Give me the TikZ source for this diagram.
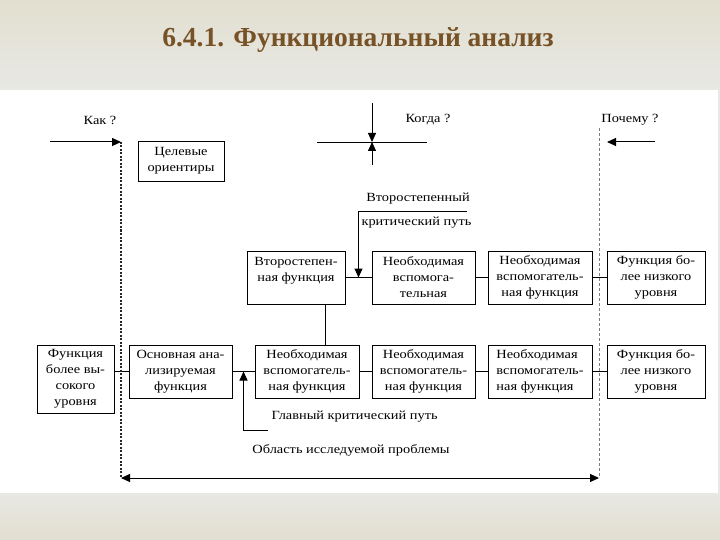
\documentclass[tikz,border=0pt]{standalone}
\usepackage{fontspec}
\setmainfont{Liberation Serif}
\newfontfamily\diagfont{Liberation Serif}[FakeStretch=1.15]
\usepackage{tikz}
\usetikzlibrary{calc}
\usetikzlibrary{arrows.meta}
\usetikzlibrary{positioning}

\definecolor{titlebrown}{RGB}{118,82,38}
\definecolor{bgtop}{RGB}{226,223,208}
\definecolor{bgbot}{RGB}{232,232,228}
\definecolor{dashgray}{RGB}{125,125,125}

\begin{document}
\begin{tikzpicture}[x=1pt,y=-1pt,font=\diagfont\fontsize{12.5}{16}\selectfont,
     bx/.style={draw, line width=0.8pt, fill=white, align=center, inner sep=1pt,
                minimum width=103, minimum height=53},
     arr/.style={line width=1pt, -{Triangle[length=9pt,width=8pt]}},
     ln/.style={line width=0.6pt}
   ]
\useasboundingbox (0,0) rectangle (720,540);
\shade[top color=bgtop, bottom color=bgbot] (0,0) rectangle (720,90);
\fill[bgbot] (0,90) rectangle (720,540);
\shade[top color=bgbot, bottom color=bgtop] (0,493) rectangle (720,540);
\fill[white] (0,90) rectangle (718,493);

\node (title) at (358,40) [font=\rmfamily\bfseries\fontsize{27.5}{32}\selectfont, text=titlebrown]
  {6.4.1. Функциональный анализ};

% question labels
\node (how) at (100,120) {Как ?};
\node (when) at (428,120) {Когда ?};
\node (why) at (630,120) {Почему ?};

% boxes, upper row
\node (goal) [bx, minimum width=86, minimum height=40] at (181,161) {Целевые\\ориентиры};
\node (sec) [bx, minimum width=98] at (296,277.5) {Второстепен-\\ная функция\\~};
\node (up1) [bx] at (423.5,277.5) {Необходимая\\вспомога-\\тельная};
\node (up2) [bx, minimum width=104] at (540,277.5) {Необходимая\\вспомогатель-\\ная функция};
\node (uplow) [bx, minimum width=98] at (656,277.5) {Функция бо-\\лее низкого\\уровня};

% boxes, lower row
\node (high) [bx, minimum width=77, minimum height=68] at (75.5,379) {Функция\\более вы-\\сокого\\уровня};
\node (main) [bx] at (180.5,371.5) {Основная ана-\\лизируемая\\функция};
\node (low1) [bx, minimum width=104] at (307,371.5) {Необходимая\\вспомогатель-\\ная функция};
\node (low2) [bx] at (423.5,371.5) {Необходимая\\вспомогатель-\\ная функция};
\node (low3) [bx, minimum width=104, align=left] at (540,371.5) {Необходимая\\вспомогатель-\\ная функция};
\node (lowlow) [bx, minimum width=98] at (656,371.5) {Функция бо-\\лее низкого\\уровня};

\draw[ln] (sec) -- (up1);
\draw[ln] (up1) -- (up2);
\draw[ln] (up2) -- (uplow);
\draw[ln] (high.east |- main) -- (main);
\draw[ln] (main) -- (low1);
\draw[ln] (low1) -- (low2);
\draw[ln] (low2) -- (low3);
\draw[ln] (low3) -- (lowlow);
\draw[ln] ([xshift=29pt]sec.south) -- ([xshift=29pt]sec.south |- low1.north);

% borders of the problem area
\coordinate (lt) at (121,142);
\coordinate (lb) at (121,478);
\coordinate (rt) at (599,128);
\coordinate (rb) at (599,478);
\draw[line width=1.6pt, black!85, dash pattern=on 2pt off 1.5pt] (lt) -- (lb);
\draw[line width=0.9pt, dashgray, dash pattern=on 3pt off 2pt] (rt) -- (rb);
\draw[line width=1pt, {Triangle[length=9pt,width=8pt]}-{Triangle[length=9pt,width=8pt]}] (lb) -- (rb);

\coordinate (howS) at (50,142);
\draw[arr] (howS) -- (lt);
\coordinate (whyS) at (655,142);
\coordinate (whyE) at (607,142);
\draw[arr] (whyS) -- (whyE);

% when cross
\coordinate (whenL) at (317,142);
\coordinate (whenR) at (427,142);
\coordinate (whenT) at (372,103);
\coordinate (whenB) at (372,165);
\coordinate (whenC) at (372,142);
\draw[ln] (whenL) -- (whenR);
\draw[arr] (whenT) -- (whenC);
\draw[arr] (whenB) -- (whenC);

% critical paths
\node (sec1) at (418,199) {Второстепенный};
\node (sec2) [right] at (358,223) {критический путь};
\coordinate (secA) at (467,212);
\draw[arr] (secA) -| ($(sec.east)!0.5!(up1.west)$);

\node (mainpath) [right] at (268,417) {Главный критический путь};
\coordinate (mainA) at (268,430);
\draw[arr] (mainA) -| ($(main.east)!0.5!(low1.west)$);

\node (area) at (351,450) {Область исследуемой проблемы};
\end{tikzpicture}
\end{document}
